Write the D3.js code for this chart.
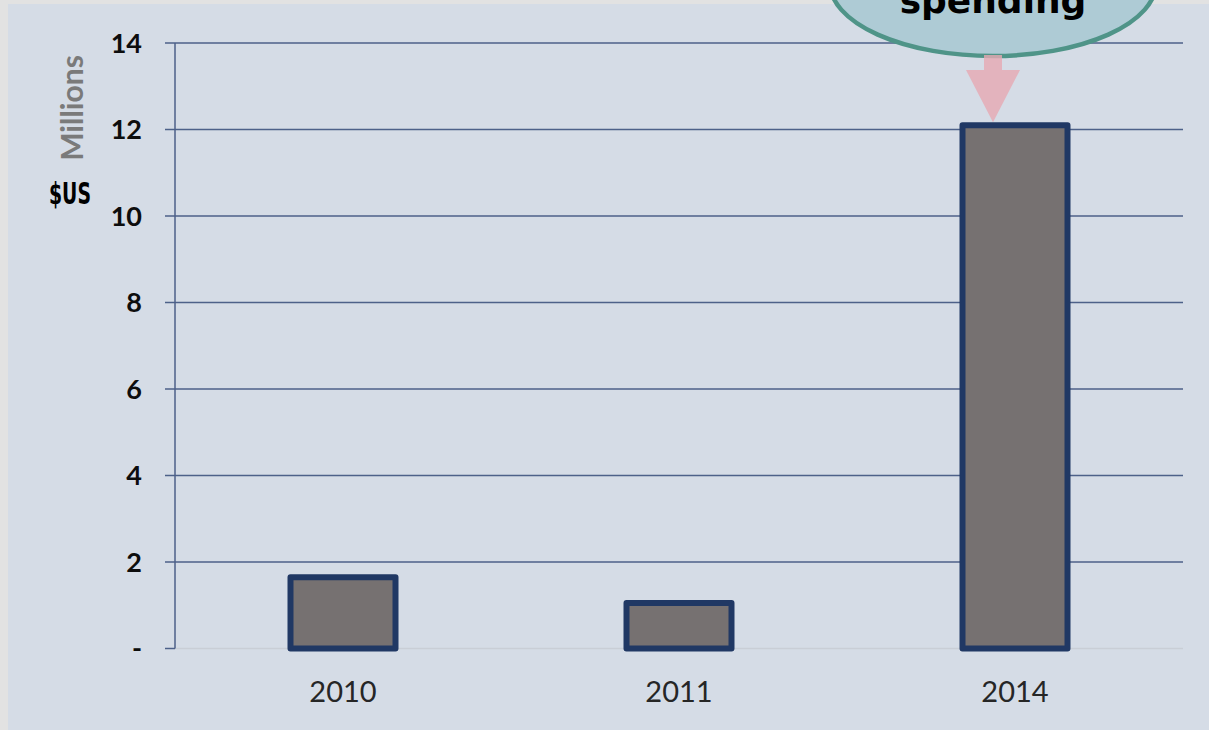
<!DOCTYPE html>
<html>
<head>
<meta charset="utf-8">
<script src="https://cdn.jsdelivr.net/npm/d3@7"></script>
<style>
  html, body { margin: 0; padding: 0; background: #e2e2e2; }
  svg { display: block; }
</style>
</head>
<body>
<svg id="chart" width="1209" height="730"></svg>
<script>
// Spending by year, in millions of US dollars
const years = ["2010", "2011", "2014"];
const spending = [1.65, 1.05, 12.1];
const yTicks = [0, 2, 4, 6, 8, 10, 12, 14];
const yTickLabels = ["-", "2", "4", "6", "8", "10", "12", "14"];
const calloutText = "spending";

const W = 1209, H = 730;
const plot = { left: 175, right: 1183, top: 43, bottom: 648.5 };

const svg = d3.select("#chart");

// panel background
svg.append("rect")
  .attr("x", 8).attr("y", 4)
  .attr("width", W - 8).attr("height", H - 4)
  .attr("fill", "#d5dce6");

const x = d3.scaleBand()
  .domain(years)
  .range([plot.left, plot.right])
  .paddingInner(0.6875)
  .paddingOuter(0.34375);

const y = d3.scaleLinear()
  .domain([0, 14])
  .range([plot.bottom, plot.top]);

// horizontal gridlines (tick stub to the left of the axis included)
svg.append("g")
  .selectAll("line")
  .data(yTicks.filter(d => d > 0))
  .join("line")
  .attr("x1", plot.left - 10).attr("x2", plot.right)
  .attr("y1", d => y(d)).attr("y2", d => y(d))
  .attr("stroke", "#4d6189").attr("stroke-width", 1.5);

// zero line
svg.append("line")
  .attr("x1", plot.left).attr("x2", plot.right)
  .attr("y1", y(0)).attr("y2", y(0))
  .attr("stroke", "#c9ced6").attr("stroke-width", 1.5);
svg.append("line")
  .attr("x1", plot.left - 10).attr("x2", plot.left)
  .attr("y1", y(0)).attr("y2", y(0))
  .attr("stroke", "#4d6189").attr("stroke-width", 1.5);

// vertical axis line
svg.append("line")
  .attr("x1", plot.left).attr("x2", plot.left)
  .attr("y1", y(14)).attr("y2", y(0))
  .attr("stroke", "#4d6189").attr("stroke-width", 1.5);

// y tick labels
svg.append("g")
  .selectAll("text")
  .data(yTicks)
  .join("text")
  .attr("x", 142)
  .attr("y", d => y(d))
  .attr("dy", "0.36em")
  .attr("text-anchor", "end")
  .attr("font-family", "Lato, 'Open Sans', sans-serif")
  .attr("font-weight", "bold")
  .attr("font-size", 27)
  .attr("fill", "#0d0d0d")
  .text((d, i) => yTickLabels[i]);

// bars
svg.append("g")
  .selectAll("rect")
  .data(years.map((k, i) => ({ k, v: spending[i] })))
  .join("rect")
  .attr("x", d => x(d.k))
  .attr("y", d => y(d.v))
  .attr("width", x.bandwidth())
  .attr("height", d => y(0) - y(d.v))
  .attr("fill", "#767171")
  .attr("stroke", "#203864")
  .attr("stroke-width", 6)
  .attr("stroke-linejoin", "round");

// x category labels
svg.append("g")
  .selectAll("text")
  .data(years)
  .join("text")
  .attr("x", d => x(d) + x.bandwidth() / 2)
  .attr("y", 702)
  .attr("text-anchor", "middle")
  .attr("font-family", "Lato, 'Open Sans', sans-serif")
  .attr("font-size", 29)
  .attr("fill", "#262626")
  .text(d => d);

// axis titles
svg.append("text")
  .attr("transform", "translate(83,108) rotate(-90)")
  .attr("text-anchor", "middle")
  .attr("font-family", "Lato, 'Open Sans', sans-serif")
  .attr("font-weight", "bold")
  .attr("font-size", 30)
  .attr("fill", "#7a7a7a")
  .text("Millions");

svg.append("text")
  .attr("x", 49).attr("y", 204)
  .attr("font-family", "'Liberation Sans Narrow', 'DejaVu Sans Condensed', sans-serif")
  .attr("font-weight", "bold")
  .attr("font-size", 30)
  .attr("textLength", 42)
  .attr("lengthAdjust", "spacingAndGlyphs")
  .attr("fill", "#000")
  .text("$US");

// callout bubble pointing at the 2014 bar
const last = years.length - 1;
const cx = x(years[last]) + x.bandwidth() / 2 - 22;
const barTop = y(spending[last]) - 3;

svg.append("ellipse")
  .attr("cx", cx).attr("cy", -17)
  .attr("rx", 163).attr("ry", 73)
  .attr("fill", "#aecbd5")
  .attr("stroke", "#4f9488")
  .attr("stroke-width", 4.5);

svg.append("text")
  .attr("x", cx).attr("y", 13)
  .attr("text-anchor", "middle")
  .attr("font-family", "'DejaVu Sans', sans-serif")
  .attr("font-weight", "bold")
  .attr("font-size", 36)
  .attr("fill", "#000")
  .text(calloutText);

// down arrow
const shaftTop = 55, headTop = 70, shaftHalf = 9, headHalf = 27;
svg.append("path")
  .attr("d", d3.line()([
    [cx - shaftHalf, shaftTop], [cx + shaftHalf, shaftTop],
    [cx + shaftHalf, headTop], [cx + headHalf, headTop],
    [cx, barTop],
    [cx - headHalf, headTop], [cx - shaftHalf, headTop]
  ]) + "Z")
  .attr("fill", "#e6a9b3")
  .attr("fill-opacity", 0.8);
</script>
</body>
</html>
